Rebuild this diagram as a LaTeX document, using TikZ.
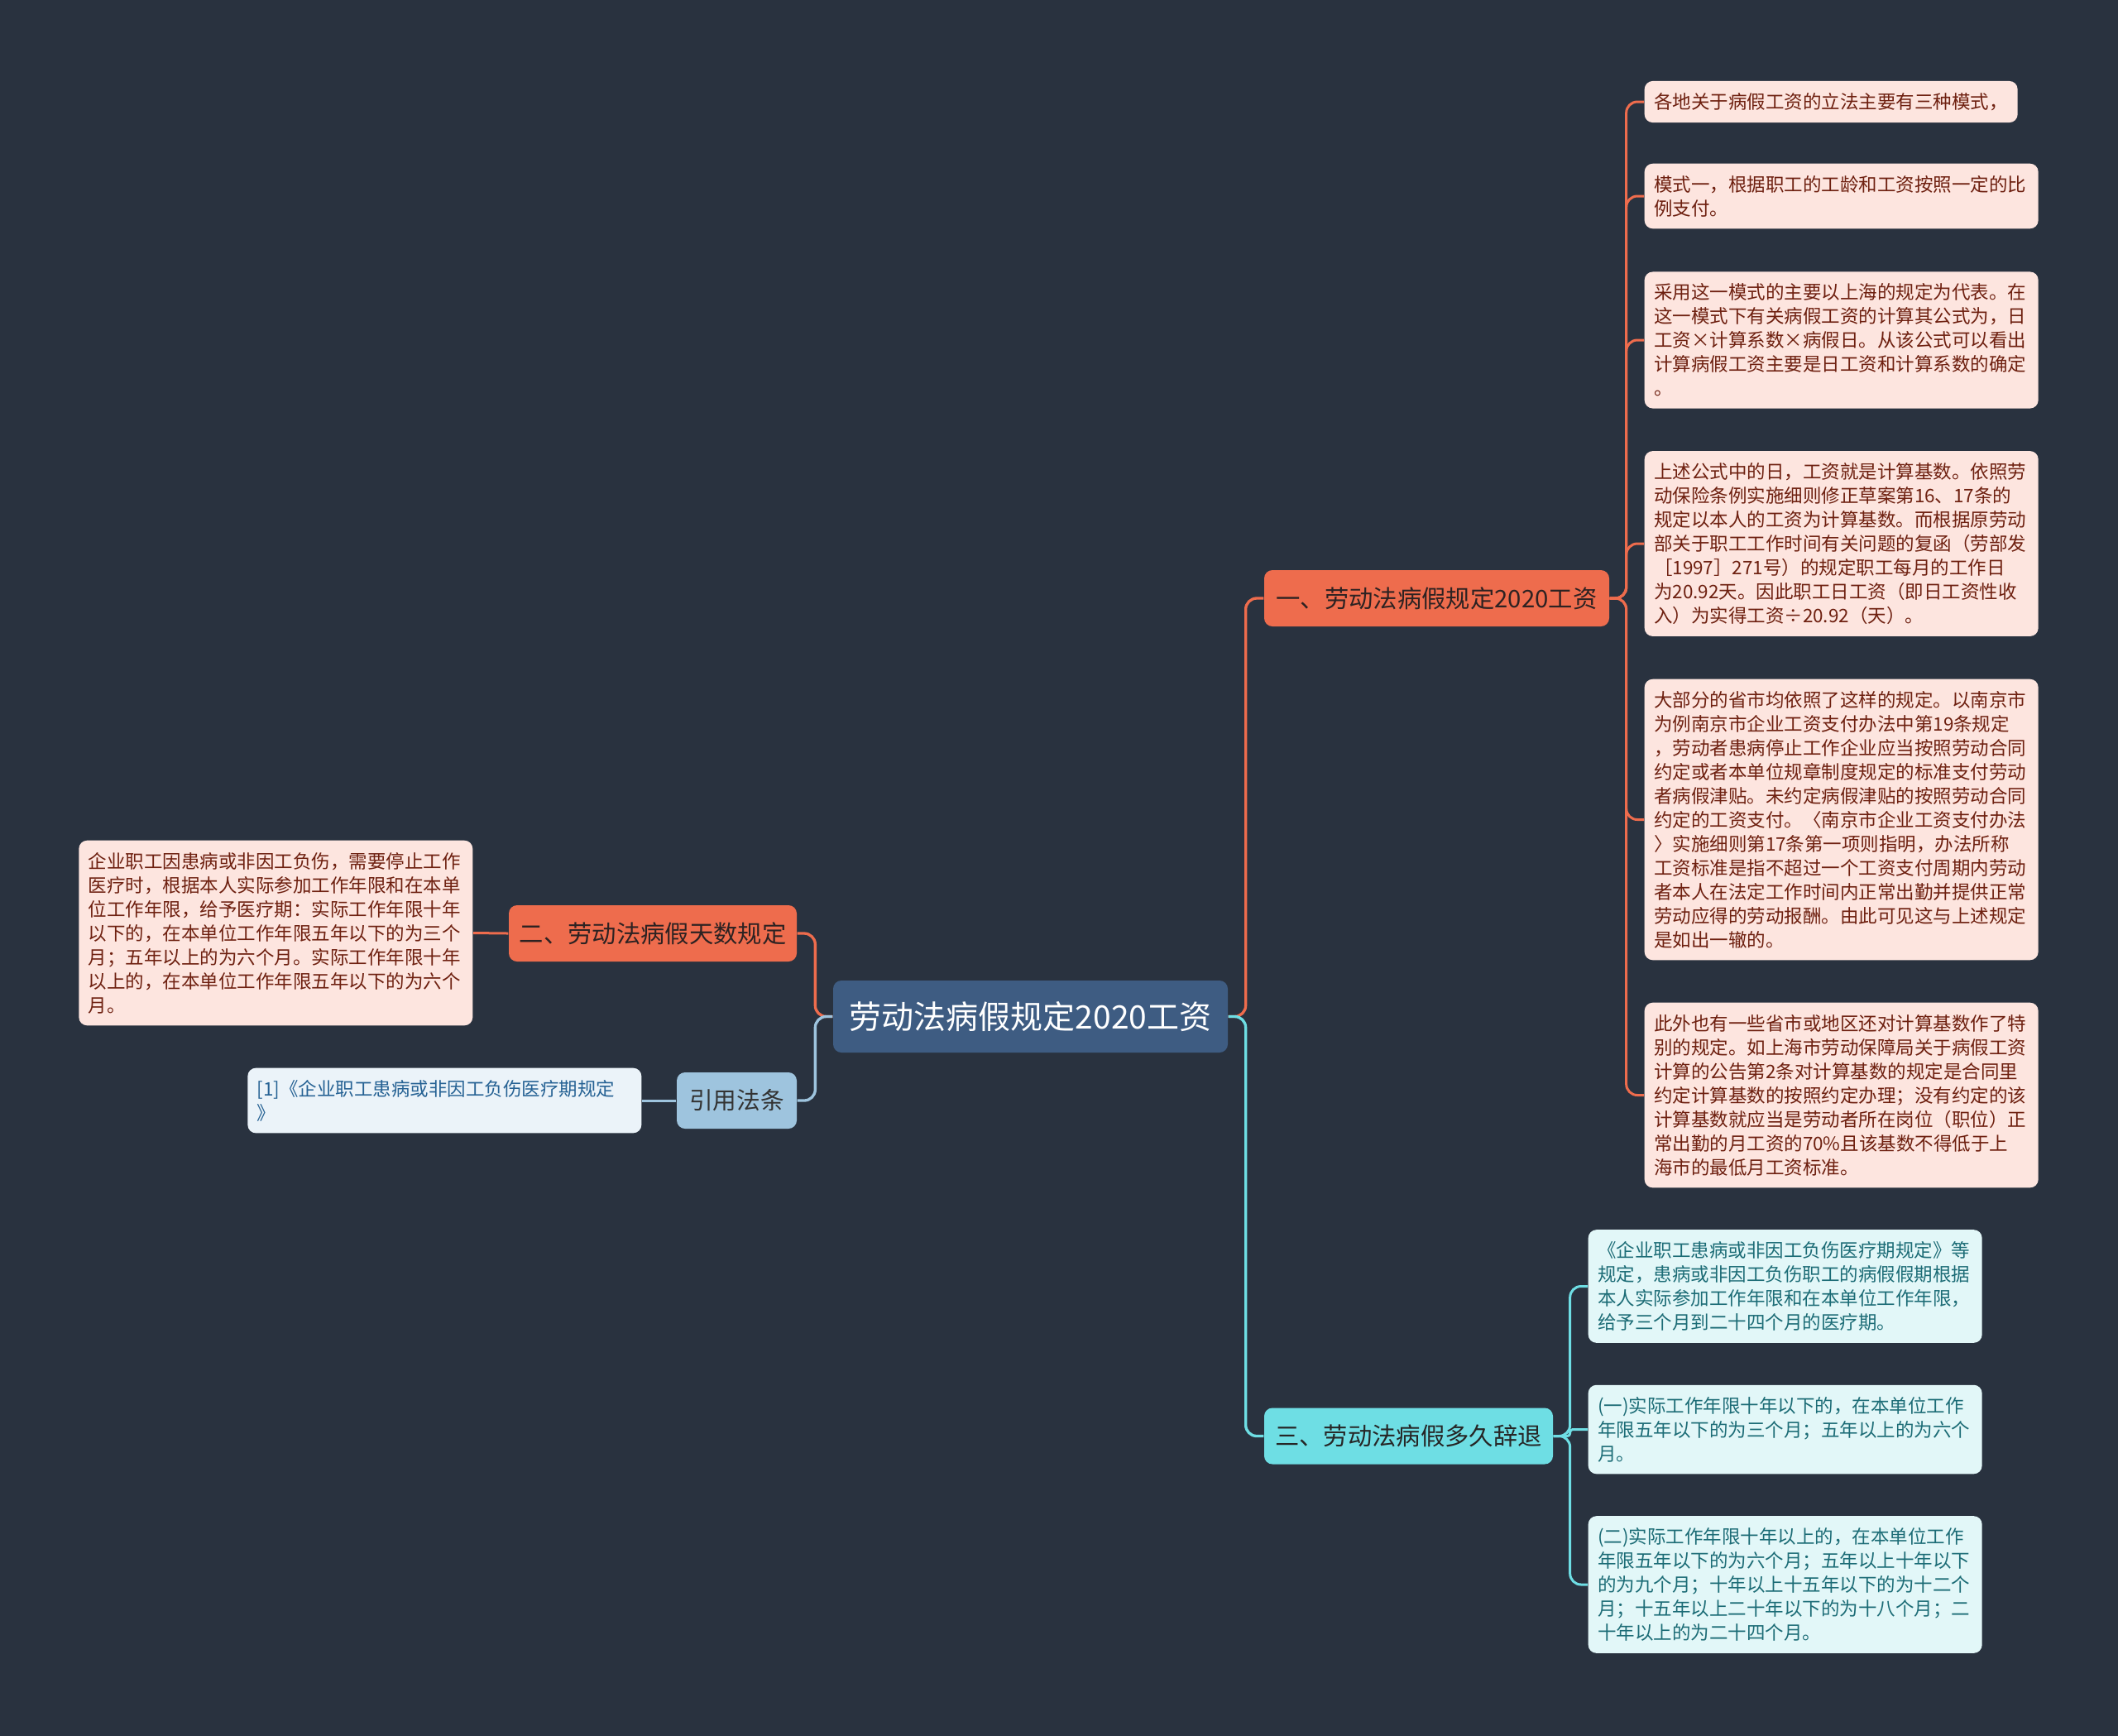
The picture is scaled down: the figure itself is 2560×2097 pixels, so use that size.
\documentclass[tikz,border=0pt]{standalone}
\usepackage{fontspec}
\setmainfont{Noto Sans CJK SC}
\usepackage{tikz}
\definecolor{bgnavy}{RGB}{41,50,63}
\definecolor{rootblue}{RGB}{62,92,130}
\definecolor{topicred}{RGB}{238,108,77}
\definecolor{topiccyan}{RGB}{110,222,228}
\definecolor{topicblue}{RGB}{158,196,222}
\definecolor{topicink}{RGB}{45,34,34}
\definecolor{leafpink}{RGB}{253,229,223}
\definecolor{leafbrown}{RGB}{110,32,16}
\definecolor{leafcyan}{RGB}{226,247,248}
\definecolor{leafteal}{RGB}{28,108,118}
\definecolor{leafice}{RGB}{235,243,249}
\definecolor{leafnavy}{RGB}{38,98,148}

\begin{document}
\begin{tikzpicture}[x=0.3pt, y=-0.3pt,
  rootbox/.style={fill=rootblue, text=white, font=\fontsize{11.7}{14}\selectfont,
    minimum width=143.1pt, minimum height=26.1pt, rounded corners=3pt},
  topicbox/.style={text=topicink, font=\fontsize{8.8}{10}\selectfont,
    minimum height=20.4pt, inner xsep=0pt, rounded corners=3pt},
  leafbox/.style={font=\fontsize{6.75}{8.7}\selectfont, text width=136pt, align=left,
    inner xsep=3.4pt, inner ysep=4.3pt, rounded corners=3pt},
  redleaf/.style={leafbox, fill=leafpink, text=leafbrown},
  cyanleaf/.style={leafbox, fill=leafcyan, text=leafteal},
  iceleaf/.style={leafbox, fill=leafice, text=leafnavy},
  link/.style={line width=0.9pt, rounded corners=4pt}]
% --- page ---
\useasboundingbox (0,0) rectangle (2560,2097);
\fill[bgnavy] (-20,-20) rectangle (2580,2117);

% --- centre and main topics ---
\node[rootbox] (root) at (1245.5,1228.5) {劳动法病假规定2020工资};
\node[topicbox, fill=topicred, minimum width=125.1pt] (t1) at (1736.5,723) {一、劳动法病假规定2020工资};
\node[topicbox, fill=topicred, minimum width=104.4pt] (t2) at (789,1128) {二、劳动法病假天数规定};
\node[topicbox, fill=topicblue, text=black!80, font=\fontsize{8.6}{10}\selectfont, minimum width=43.5pt] (t4) at (890.5,1330) {引用法条};
\node[topicbox, fill=topiccyan, text=black!85, minimum width=104.7pt] (t3) at (1702.5,1735.5) {三、劳动法病假多久辞退};

% --- leaves of topic one ---
\node[redleaf, text width=128.5pt, anchor=west] (a1) at (1987,123) {各地关于病假工资的立法主要有三种模式，};
\node[redleaf, anchor=west] (a2) at (1987,237) {模式一，根据职工的工龄和工资按照一定的比\\例支付。};
\node[redleaf, anchor=west] (a3) at (1987,411) {采用这一模式的主要以上海的规定为代表。在\\这一模式下有关病假工资的计算其公式为，日\\工资×计算系数×病假日。从该公式可以看出\\计算病假工资主要是日工资和计算系数的确定\\。};
\node[redleaf, anchor=west] (a4) at (1987,657) {上述公式中的日，工资就是计算基数。依照劳\\动保险条例实施细则修正草案第16、17条的\\规定以本人的工资为计算基数。而根据原劳动\\部关于职工工作时间有关问题的复函（劳部发\\［1997］271号）的规定职工每月的工作日\\为20.92天。因此职工日工资（即日工资性收\\入）为实得工资÷20.92（天）。};
\node[redleaf, anchor=west] (a5) at (1987,990.5) {大部分的省市均依照了这样的规定。以南京市\\为例南京市企业工资支付办法中第19条规定\\，劳动者患病停止工作企业应当按照劳动合同\\约定或者本单位规章制度规定的标准支付劳动\\者病假津贴。未约定病假津贴的按照劳动合同\\约定的工资支付。〈南京市企业工资支付办法\\〉实施细则第17条第一项则指明，办法所称\\工资标准是指不超过一个工资支付周期内劳动\\者本人在法定工作时间内正常出勤并提供正常\\劳动应得的劳动报酬。由此可见这与上述规定\\是如出一辙的。};
\node[redleaf, anchor=west] (a6) at (1987,1323.5) {此外也有一些省市或地区还对计算基数作了特\\别的规定。如上海市劳动保障局关于病假工资\\计算的公告第2条对计算基数的规定是合同里\\约定计算基数的按照约定办理；没有约定的该\\计算基数就应当是劳动者所在岗位（职位）正\\常出勤的月工资的70\%且该基数不得低于上\\海市的最低月工资标准。};

% --- leaf of topic two, cited law ---
\node[redleaf, anchor=east] (b1) at (572,1127.5) {企业职工因患病或非因工负伤，需要停止工作\\医疗时，根据本人实际参加工作年限和在本单\\位工作年限，给予医疗期：实际工作年限十年\\以下的，在本单位工作年限五年以下的为三个\\月；五年以上的为六个月。实际工作年限十年\\以上的，在本单位工作年限五年以下的为六个\\月。};
\node[iceleaf, anchor=east] (c1) at (776,1330) {[1]《企业职工患病或非因工负伤医疗期规定\\》};

% --- leaves of topic three ---
\node[cyanleaf, anchor=west] (m1) at (1919,1554.5) {《企业职工患病或非因工负伤医疗期规定》等\\规定，患病或非因工负伤职工的病假假期根据\\本人实际参加工作年限和在本单位工作年限，\\给予三个月到二十四个月的医疗期。};
\node[cyanleaf, anchor=west] (m2) at (1919,1727.5) {(一)实际工作年限十年以下的，在本单位工作\\年限五年以下的为三个月；五年以上的为六个\\月。};
\node[cyanleaf, anchor=west] (m3) at (1919,1915) {(二)实际工作年限十年以上的，在本单位工作\\年限五年以下的为六个月；五年以上十年以下\\的为九个月；十年以上十五年以下的为十二个\\月；十五年以上二十年以下的为十八个月；二\\十年以上的为二十四个月。};

% --- links from the centre ---
\draw[link, line width=1pt, topicred] (root.east) -- ++(21,0) |- (t1.west);
\draw[link, line width=1pt, topiccyan] (root.east) -- ++(21,0) |- (t3.west);
\draw[link, line width=1pt, topicred] (root.west) -- ++(-21,0) |- (t2.east);
\draw[link, line width=1pt, topicblue] (root.west) -- ++(-21,0) |- (t4.east);

% --- links to the leaves ---
\foreach \n in {a1,a2,a3,a4,a5,a6}
  \draw[link, topicred] (t1.east) -- ++(20,0) |- (\n.west);
\draw[link, topicred] (t2.west) -- (b1.east);
\draw[link, topicblue] (t4.west) -- (c1.east);
\foreach \n in {m1,m3}
  \draw[link, topiccyan] (t3.east) -- ++(20,0) |- (\n.west);
\draw[link, rounded corners=1pt, topiccyan] (t3.east) -- ++(20,0) |- (m2.west);
\end{tikzpicture}
\end{document}
